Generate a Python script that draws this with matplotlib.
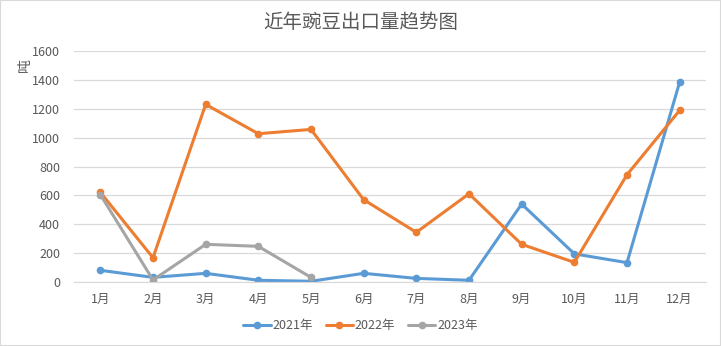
import matplotlib.pyplot as plt
from matplotlib.patches import Rectangle

plt.rcParams['font.family'] = ['Noto Sans CJK SC', 'DejaVu Sans']

months = ['1月', '2月', '3月', '4月', '5月', '6月', '7月', '8月', '9月', '10月', '11月', '12月']
y2021 = [81, 32, 60, 12, 5, 60, 25, 12, 540, 195, 134, 1385]
y2022 = [621, 168, 1230, 1027, 1057, 570, 344, 611, 261, 136, 743, 1189]
y2023 = [605, 14, 261, 247, 32]

series = [('2021年', y2021, '#5B9BD5'),
          ('2022年', y2022, '#ED7D31'),
          ('2023年', y2023, '#A5A5A5')]

text_col = '#595959'

fig = plt.figure(figsize=(7.21, 3.46), dpi=100)
ax = fig.add_axes([74 / 721, 1 - 282 / 346, 632 / 721, 231 / 346])

x = list(range(1, len(months) + 1))
for name, vals, col in series:
    ax.plot(x[:len(vals)], vals, color=col, lw=2.2, marker='o', ms=4.5,
            label=name, solid_capstyle='round', solid_joinstyle='round')

ax.set_xlim(0.5, 12.5)
ax.set_ylim(0, 1600)
ax.set_yticks(range(0, 1601, 200))
ax.set_xticks(x)
ax.set_xticklabels(months)
ax.grid(axis='y', color='#D9D9D9', lw=0.9)
ax.set_axisbelow(True)
for s in ['top', 'right', 'left']:
    ax.spines[s].set_visible(False)
ax.spines['bottom'].set_color('#D9D9D9')
ax.tick_params(length=0, colors=text_col, labelsize=9)
ax.tick_params(axis='x', pad=8)
ax.tick_params(axis='y', pad=10)

fig.text(25 / 721, 1 - 65 / 346, '吨', rotation=90, ha='center', va='center',
         color=text_col, fontsize=10)
fig.text(0.5, 1 - 22 / 346, '近年豌豆出口量趋势图', ha='center', va='center',
         color=text_col, fontsize=14)

fig.legend(loc='center', bbox_to_anchor=(0.5, 1 - 326 / 346), ncol=3,
           frameon=False, fontsize=9, labelcolor=text_col, handlelength=2.2,
           columnspacing=1.0, handletextpad=0.15)

fig.patches.append(Rectangle((0, 0), 1, 1, transform=fig.transFigure,
                             fill=False, edgecolor='#D9D9D9', lw=1.5))

fig.savefig('out.png', dpi=100)
